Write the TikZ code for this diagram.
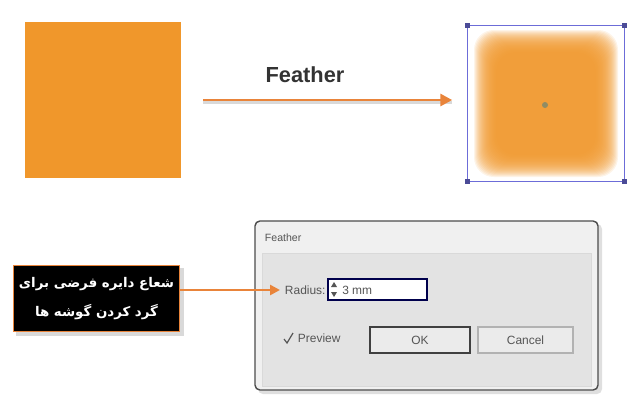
\documentclass[tikz,border=0pt]{standalone}
\usepackage{fontspec}
\setmainfont{Liberation Sans}
\newfontfamily\farsi[Script=Arabic]{DejaVu Sans}
\TeXXeTstate=1
\usetikzlibrary{arrows.meta}
\newdimen\px \px=0.025cm
\definecolor{sqorange}{HTML}{F0972B}
\definecolor{arrorange}{HTML}{E9843A}
\definecolor{selblue}{HTML}{6C6CD8}
\definecolor{dlgtext}{HTML}{555555}
\begin{document}
\begin{tikzpicture}[x=0.025cm,y=-0.025cm,
  arr/.style={arrorange,line width=2.1pt,-{Triangle[length=8.5pt,width=8.5pt]}},
  dlgbtn/.style={draw=#1,line width=1pt,fill=white!92!black,minimum width=100\px,minimum height=26\px,inner sep=0,font=\fontsize{8.5}{10}\selectfont,text=dlgtext}]
  \useasboundingbox (0,0) rectangle (642,401);
  % source and feathered squares
  \node[fill=sqorange,minimum size=156\px,inner sep=0] (src) at (102.5,100) {};
  \node[minimum size=156\px,inner sep=0] (dst) at (546,103.5) {};
  \foreach \i in {0,...,22}
    \fill[sqorange,opacity=0.11,rounded corners=14pt] (474+\i,30+\i) rectangle (618-\i,177-\i);
  \draw[selblue,line width=0.7pt] (dst.north west) rectangle (dst.south east);
  \foreach \a in {north west,north east,south west,south east}
    \fill[selblue!70!black] (dst.\a) ++(-2.5,-2.5) rectangle ++(5,5);
  \fill[gray!70!olive] (545,105) circle (3);
  % top arrow
  \draw[gray!30,line width=2.1pt,shorten <=16pt,shorten >=11pt] ([yshift=-2pt]src.east) -- ([yshift=-2pt]src.east -| dst.west);
  \draw[arr,shorten <=16pt,shorten >=11pt] (src.east) -- (src.east -| dst.west);
  \node[font=\fontsize{15.5}{18}\selectfont\bfseries,text=black!80] (lbl) at (305,75) {Feather};
  % dialog
  \fill[gray!25,rounded corners=3.5pt] (258,224) rectangle (602,394);
  \draw[gray!60!black,line width=1pt,fill=white!94!black,rounded corners=3.5pt] (255,221) rectangle (598,390);
  \node[anchor=west,font=\fontsize{7.5}{9}\selectfont,text=dlgtext] (title) at (260,238) {Feather};
  \draw[gray!30,fill=white!89!black] (262,253) rectangle (591,386);
  \node[anchor=west,font=\fontsize{8.5}{10}\selectfont,text=dlgtext] (radius) at (280,290) {Radius:};
  \node[draw=blue!30!black,line width=1pt,fill=white,minimum width=99\px,minimum height=21\px,inner sep=0] (field) at (377.5,289.5) {};
  \node[anchor=west,font=\fontsize{8.5}{10}\selectfont,text=dlgtext,inner sep=0] (val) at (342,290) {3 mm};
  \fill[dlgtext] (331,287) -- (337,287) -- (334,282) -- cycle;
  \fill[dlgtext] (331,292) -- (337,292) -- (334,297) -- cycle;
  \draw[dlgtext,line width=0.85pt] (284,339) -- (287,343) -- (293,333);
  \node[anchor=west,font=\fontsize{8.5}{10}\selectfont,text=dlgtext] (prev) at (293,338) {Preview};
  \node[dlgbtn=gray!50!black] (ok) at (420,340) {OK};
  \node[dlgbtn=gray!60,minimum width=95\px] (cancel) at (525.5,340) {Cancel};
  % note box
  \fill[gray!30] (16,268) rectangle (184,336);
  \node[fill=black,draw=arrorange,line width=1.4pt,minimum width=166\px,minimum height=66\px,inner sep=0,
    align=center,text=white,font=\farsi\bfseries\fontsize{9.5}{20}\selectfont] (note) at (96.5,298.5)
    {\beginR شعاع دایره فرضی برای\endR\\\beginR گرد کردن گوشه ها\endR};
  \draw[arr,line width=1.8pt,-{Triangle[length=7pt,width=7pt]}] (note.east |- radius.west) -- (radius.west);
\end{tikzpicture}
\end{document}
